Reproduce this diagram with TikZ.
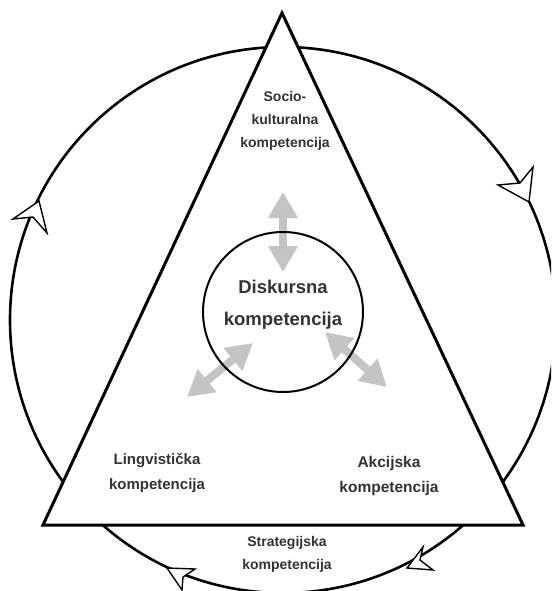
\documentclass[tikz,border=0pt]{standalone}
\usepackage{fontspec}
\setmainfont{Liberation Sans}
\usetikzlibrary{arrows.meta}
\definecolor{txt}{HTML}{333333}
\definecolor{arr}{HTML}{C4C4C4}
\begin{document}
\begin{tikzpicture}[x=1pt,y=-1pt,
 lbl/.style={font=\bfseries\fontsize{15}{23.5}\selectfont, text=txt, align=center, inner sep=0pt},
 biglbl/.style={font=\bfseries\fontsize{18.5}{32}\selectfont, text=txt, align=center, inner sep=0pt},
 openhead/.style={draw=black, fill=white, line width=1.4pt, line join=miter},
 grayarrow/.style={draw=arr, line width=8pt, {Triangle[width=28pt,length=26pt]}-{Triangle[width=28pt,length=26pt]}},
 tri/.style={draw=black, fill=white, line width=3pt, line join=miter},
]
\useasboundingbox (0,0) rectangle (551,591);
\fill[white] (0,0) rectangle (551,591);
\clip (0,0) rectangle (551,591);
% outer cycle
\node[circle, draw, line width=2.6pt, minimum size=546pt, inner sep=0pt] (outer) at (283,320) {};
% arrowheads on the cycle
\draw[openhead] (39,201) -- (13,219) -- (33,217) -- (47,233) -- cycle;
\draw[openhead] (529,202) -- (498,185) -- (520,183) -- (533,167) -- cycle;
\draw[openhead] (167,568) -- (195,569) -- (183,577) -- (182,590) -- cycle;
\draw[openhead] (407,568) -- (423,547) -- (420,560) -- (433,570) -- cycle;
% triangle
\coordinate (apex) at (282,13);
\coordinate (bl) at (43,525);
\coordinate (br) at (523,525);
\draw[tri] (apex) -- (bl) -- (br) -- cycle;
% gray double arrows
\coordinate (t1) at (283,192); \coordinate (t2) at (283,272);
\coordinate (l1) at (253,343); \coordinate (l2) at (187,397);
\coordinate (r1) at (325,332); \coordinate (r2) at (387,387);
\draw[grayarrow] (t1) -- (t2);
\draw[grayarrow] (l1) -- (l2);
\draw[grayarrow] (r1) -- (r2);
% inner circle
\node[circle, draw, line width=2pt, minimum size=160pt, inner sep=0pt] (inner) at (283,312) {};
\node[biglbl] (disk) at (283,305) {Diskursna\\kompetencija};
% labels
\node[lbl, font=\bfseries\fontsize{14}{23}\selectfont] (socio) at (285,121) {Socio-\\kulturalna\\kompetencija};
\node[lbl, font=\bfseries\fontsize{15}{25}\selectfont] (ling) at (157,473) {Lingvistička\\kompetencija};
\node[lbl, font=\bfseries\fontsize{15.5}{25}\selectfont] (akc) at (389,476) {Akcijska\\kompetencija};
\node[lbl, font=\bfseries\fontsize{14}{23}\selectfont] (strat) at (287,554) {Strategijska\\kompetencija};
\end{tikzpicture}
\end{document}
